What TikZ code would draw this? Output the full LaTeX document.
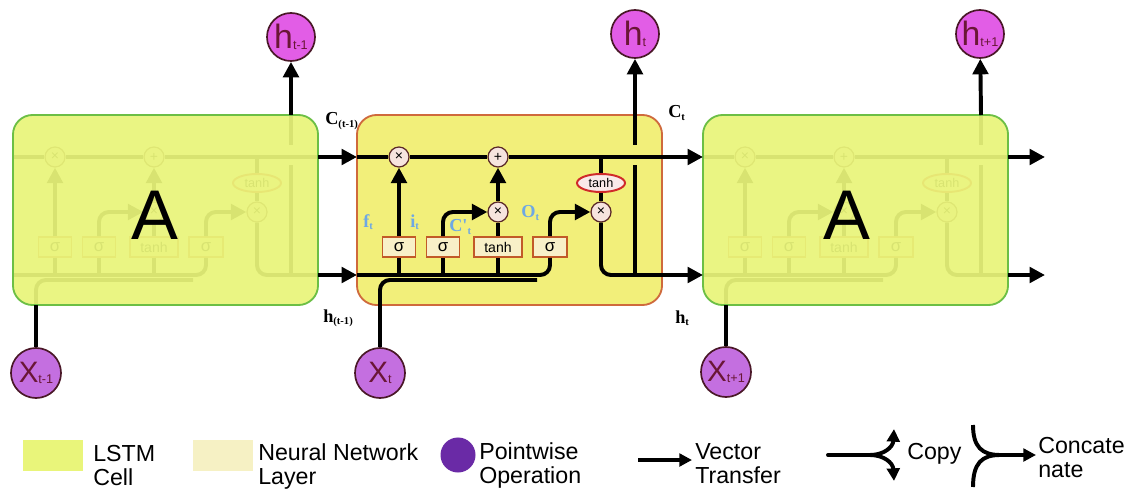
\documentclass[tikz,border=0pt]{standalone}
\usepackage{fontspec}
\setmainfont{Liberation Sans}
\newfontfamily\tnr{Liberation Serif}
\usetikzlibrary{arrows.meta,shapes.geometric}
\definecolor{cellg}{HTML}{E9F57A}
\definecolor{cellborder}{HTML}{6CBF45}
\definecolor{midfill}{HTML}{F2EF7A}
\definecolor{midborder}{HTML}{CF6A3C}
\definecolor{nnfill}{HTML}{F8F0C8}
\definecolor{nnborder}{HTML}{C25A28}
\definecolor{nnleg}{HTML}{F6F1C4}
\definecolor{pwfill}{HTML}{F6E4DE}
\definecolor{pwborder}{HTML}{5A2828}
\definecolor{thfill}{HTML}{F9E9E9}
\definecolor{thborder}{HTML}{D02A2A}
\definecolor{hfill}{HTML}{E25DE6}
\definecolor{xfill}{HTML}{C46FE0}
\definecolor{circborder}{HTML}{4A1828}
\definecolor{circtext}{HTML}{6A1636}
\definecolor{labblue}{HTML}{6EA8E4}
\definecolor{legpurple}{HTML}{6A2AA6}

\tikzset{
 conn/.style={draw=black, line width=2.8pt},
 arr/.style={conn, -{Triangle[length=11pt,width=11pt]}},
 pw/.style={circle, draw=pwborder, fill=pwfill, line width=0.9pt, minimum size=0.5cm, inner sep=0pt, font=\fontsize{10}{10}\selectfont},
 nnl/.style={rectangle, draw=nnborder, fill=nnfill, line width=1.2pt, minimum height=0.5cm, minimum width=0.825cm, inner sep=0pt, font=\fontsize{12}{12}\selectfont},
 thl/.style={ellipse, draw=thborder, fill=thfill, line width=1.4pt, minimum width=1.2cm, minimum height=0.45cm, inner sep=0pt, font=\fontsize{9}{9}\selectfont},
 hcirc/.style={circle, draw=circborder, fill=hfill, line width=1.2pt, minimum size=1.2cm, inner sep=0pt, text=circtext},
 xcirc/.style={hcirc, fill=xfill, minimum size=1.25cm},
 cellbox/.style={rectangle, rounded corners=14pt, line width=1.3pt, minimum width=7.625cm, minimum height=4.75cm, inner sep=0pt},
 lab/.style={font=\tnr\bfseries\fontsize{13}{13}\selectfont, inner sep=0pt, anchor=base west},
 blab/.style={lab, text=labblue},
 legtxt/.style={font=\fontsize{16.5}{17}\selectfont, align=left, anchor=north west, inner sep=0pt},
 legtip/.style={conn, -{Triangle[length=9pt,width=9pt]}},
}
\newcommand\subs[2]{#1\raisebox{-2pt}{\fontsize{7.5}{7.5}\selectfont #2}}
\newcommand\circtxt[3]{{\fontsize{#3}{#3}\selectfont #1}\raisebox{-1pt}{\fontsize{9}{9}\selectfont #2}}

\newcommand\lstmcell[2]{%
\begin{scope}[shift={(#2,115)}]
\coordinate (#1cin) at (0,42);
\coordinate (#1cout) at (305,42);
\coordinate (#1hin) at (0,160);
\coordinate (#1hout) at (305,160);
\coordinate (#1xin) at (23,190);
\coordinate (#1xj) at (180,165);
\coordinate (#1cb) at (244,42);
\coordinate (#1vj) at (278,160);
\coordinate (#1vga) at (278,50);
\coordinate (#1vgb) at (278,30);
\coordinate (#1top) at (278,0);
\node[pw] (#1ma) at (42,42) {×};
\node[pw] (#1pl) at (141,42) {+};
\node[pw] (#1mb) at (141,97) {×};
\node[pw] (#1mc) at (244,97) {×};
\node[thl] (#1th) at (244,68) {tanh};
\node[nnl] (#1sa) at (42,132) {σ};
\node[nnl] (#1sb) at (86,132) {σ};
\node[nnl, minimum width=1.2cm, font=\fontsize{10}{10}\selectfont] (#1tb) at (141,132) {tanh};
\node[nnl, minimum width=0.85cm] (#1sc) at (193,132) {σ};
\draw[conn] (#1cin) -- (#1ma) -- (#1pl) -- (#1cout);
\draw[conn, rounded corners=7pt] (#1hin) -| (#1sc);
\draw[conn, rounded corners=7pt] (#1xin) |- (#1xj);
\draw[conn] (#1sa) -- (#1sa |- #1hin);
\draw[conn] (#1sb) -- (#1sb |- #1hin);
\draw[conn] (#1tb) -- (#1tb |- #1hin);
\draw[arr] (#1sa) -- (#1ma);
\draw[arr, rounded corners=7pt] (#1sb) |- (#1mb);
\draw[conn] (#1tb) -- (#1mb);
\draw[arr] (#1mb) -- (#1pl);
\draw[arr, rounded corners=7pt] (#1sc) |- (#1mc);
\draw[conn] (#1cb) -- (#1th);
\draw[conn] (#1th) -- (#1mc);
\draw[conn, rounded corners=7pt] (#1mc) |- (#1hout);
\draw[conn] (#1vj) -- (#1vga);
\draw[conn] (#1vgb) -- (#1top);
\end{scope}}

\begin{document}
\begin{tikzpicture}[x=0.025cm,y=-0.025cm]
\path[fill=white, use as bounding box] (0,0) rectangle (1135,491);

% left ghost cell
\lstmcell{L}{13}
\node[cellbox, draw=cellborder, fill=cellg, fill opacity=0.93] (Lbox) at (165.5,210) {};
\node[font=\fontsize{50}{50}\selectfont] (LA) at (155,215) {A};

% middle cell
\node[cellbox, draw=midborder, fill=midfill] (Mbox) at (509.5,210) {};
\lstmcell{M}{357}

% right ghost cell
\lstmcell{R}{703}
\node[cellbox, draw=cellborder, fill=cellg, fill opacity=0.93] (Rbox) at (855.5,210) {};
\node[font=\fontsize{50}{50}\selectfont] (RA) at (847,215) {A};

% connections between cells
\coordinate (Cend) at (1045,157);
\coordinate (Hend) at (1045,275);
\draw[arr] (Lcout) -- (Mcin);
\draw[arr] (Lhout) -- (Mhin);
\draw[arr] (Mcout) -- (Rcin);
\draw[arr] (Mhout) -- (Rhin);
\draw[arr] (Rcout) -- (Cend);
\draw[arr] (Rhout) -- (Hend);

% outputs
\node[hcirc] (hL) at (291,37) {\circtxt{h}{t-1}{24}};
\node[hcirc] (hM) at (635,34) {\circtxt{h}{t}{24}};
\node[hcirc] (hR) at (980,34) {\circtxt{h}{t+1}{24}};
\draw[arr] (Ltop) -- (hL);
\draw[arr] (Mtop) -- (hM);
\draw[arr] (Rtop) -- (hR);

% inputs
\node[xcirc] (xL) at (36,373) {\circtxt{X}{t-1}{21}};
\node[xcirc] (xM) at (380,373) {\circtxt{X}{t}{21}};
\node[xcirc] (xR) at (726,372) {\circtxt{X}{t+1}{21}};
\draw[conn] (xL) -- (Lxin);
\draw[conn] (xM) -- (Mxin);
\draw[conn] (xR) -- (Rxin);

% labels
\node[lab] (lCa) at (325,125) {\subs{C}{(t-1)}};
\node[lab] (lCb) at (668,118) {\subs{C}{t}};
\node[lab] (lHa) at (323,322) {\subs{h}{(t-1)}};
\node[lab] (lHb) at (675,323) {\subs{h}{t}};
\node[blab] (lf) at (363,227) {\subs{f}{t}};
\node[blab] (li) at (410,227) {\subs{i}{t}};
\node[blab] (lcp) at (449,232) {\subs{C'}{t}};
\node[blab] (lo) at (521,218) {\subs{O}{t}};

% legend
\node[fill=cellg, minimum width=1.5cm, minimum height=0.775cm, inner sep=0pt, anchor=north west] (legA) at (23,440) {};
\node[legtxt] (legAt) at (93,445) {LSTM\\Cell};
\node[fill=nnleg, minimum width=1.5cm, minimum height=0.775cm, inner sep=0pt, anchor=north west] (legB) at (193,440) {};
\node[legtxt] (legBt) at (258,443) {Neural Network\\Layer};
\node[circle, fill=legpurple, minimum size=0.875cm, inner sep=0pt] (legC) at (458,455) {};
\node[legtxt] (legCt) at (479,442) {Pointwise\\Operation};
\coordinate (legDa) at (638,460);
\coordinate (legDb) at (692,460);
\draw[legtip] (legDa) -- (legDb);
\node[legtxt] (legDt) at (695,443) {Vector\\Transfer};
\coordinate (cpa) at (828,455);
\coordinate (cpj) at (870,455);
\coordinate (cpu) at (894,429);
\coordinate (cpd) at (894,481);
\draw[conn, line cap=round] (cpa) -- (cpj);
\draw[legtip] (cpj) .. controls (884,455) and (893,447) .. (cpu);
\draw[legtip] (cpj) .. controls (884,455) and (893,463) .. (cpd);
\node[font=\fontsize{16.5}{17}\selectfont, anchor=west, inner sep=0pt] (cpt) at (907,454) {Copy};
\coordinate (cta) at (973,425);
\coordinate (ctb) at (973,487);
\coordinate (ctj) at (1000,455);
\coordinate (cte) at (1036,455);
\draw[conn] (cta) .. controls (973,447) and (982,455) .. (ctj);
\draw[conn] (ctb) .. controls (973,463) and (982,455) .. (ctj);
\draw[legtip] (ctj) -- (cte);
\node[legtxt] (ctt) at (1038,437) {Concate\\nate};
\end{tikzpicture}
\end{document}
